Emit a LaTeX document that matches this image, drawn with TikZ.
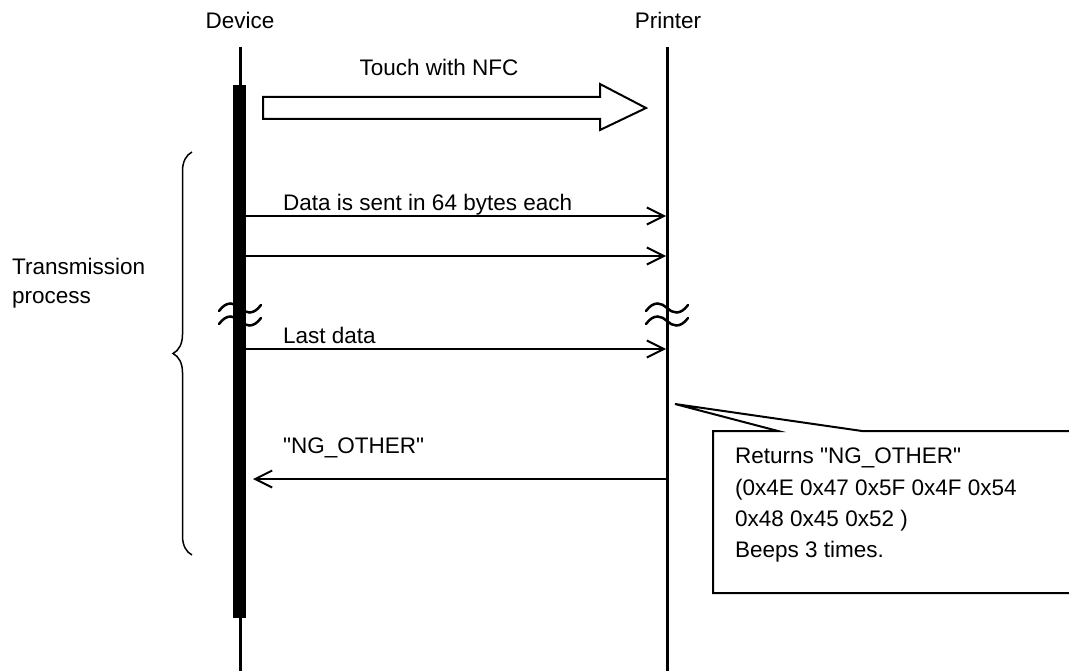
\documentclass[tikz,border=0pt]{standalone}
\usepackage{fontspec}
\setmainfont{Liberation Sans}
\usetikzlibrary{arrows.meta, decorations.pathreplacing}

\begin{document}
\begin{tikzpicture}[x=1pt, y=-1pt,
  lbl/.style={inner sep=0pt, font=\fontsize{22.5}{29}\selectfont},
  msg/.style={line width=2pt, -{Straight Barb[length=17pt, width=17pt, line width=2pt]}},
  life/.style={line width=3pt},
  wave/.style={line width=2.5pt, line cap=round}]
  \useasboundingbox (0,0) rectangle (1069,671);
  \clip (0,0) rectangle (1069,671);

  % lifelines
  \coordinate (devTop) at (240,47);
  \coordinate (devBot) at (240,671);
  \coordinate (prnTop) at (667,47);
  \coordinate (prnBot) at (667,671);
  \node[lbl, anchor=base] (device) at (240,29) {Device};
  \node[lbl, anchor=base] (printer) at (668,29) {Printer};
  \draw[life] (devTop) -- (devBot);
  \draw[life] (prnTop) -- (prnBot);
  % active bar
  \coordinate (barTop) at (239.5,85);
  \coordinate (barBot) at (239.5,618);
  \draw[line width=13pt] (barTop) -- (barBot);

  % touch arrow
  \draw[line width=2pt] (263,97) -- (600,97) -- (600,84) -- (646,108)
    -- (600,130) -- (600,119) -- (263,119) -- cycle;
  \node[lbl, anchor=base] (touch) at (439,76) {Touch with NFC};

  % messages
  \foreach \n/\y in {1/216, 2/256, 3/349} {
    \coordinate (d\n) at (246,\y);
    \coordinate (p\n) at (666,\y);
    \draw[msg] (d\n) -- (p\n);
  }
  \node[lbl, anchor=base west] (data) at (283,211) {Data is sent in 64 bytes each};
  \node[lbl, anchor=base west] (last) at (283,344) {Last data};
  \coordinate (p4) at (666,479);
  \coordinate (d4) at (253,479);
  \draw[msg] (p4) -- (d4);
  \node[lbl, anchor=base west] (ng) at (283,453) {\textquotedbl NG\_OTHER\textquotedbl};

  % breaks
  \foreach \x in {240,667}
    \foreach \y in {308,321}
      \draw[wave] (\x-21,\y+3) .. controls (\x-13,\y-8) and (\x-5,\y-5) .. (\x,\y)
        .. controls (\x+5,\y+5) and (\x+13,\y+8) .. (\x+21,\y-3);

  % brace
  \draw[line width=1.5pt, decorate, decoration={brace, amplitude=19pt}]
    (192,555) -- (192,152);
  \node[lbl, anchor=north west, align=left] (trans) at (12,258) {Transmission\\process};

  % callout
  \draw[line width=2pt] (778,431) -- (675,404) -- (862,431) -- (1075,431)
    -- (1075,593) -- (713,593) -- (713,431) -- cycle;
  \node[lbl, anchor=north west, align=left, font=\fontsize{22.5}{31.3}\selectfont]
    (note) at (735,448) {Returns \textquotedbl NG\_OTHER\textquotedbl\\(0x4E 0x47 0x5F 0x4F 0x54\\0x48 0x45 0x52 )\\Beeps 3 times.};
\end{tikzpicture}
\end{document}
